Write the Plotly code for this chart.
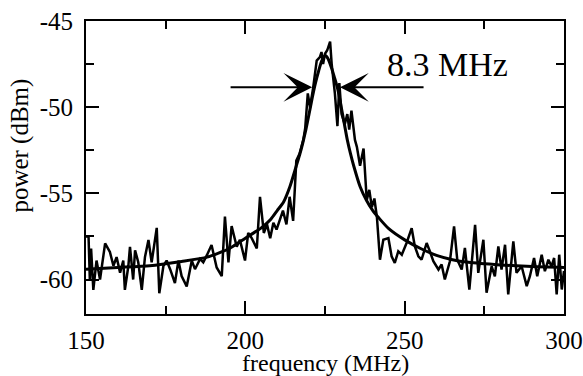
import plotly.graph_objects as go

# measured spectrum (frequency in MHz, power in dBm)
freq = [150.0, 150.8, 151.2, 151.6, 152.3, 153.3, 154.4, 156.0, 157.5, 158.6, 159.6, 160.7,
        161.7, 162.2, 163.3, 163.8, 164.8, 165.4, 166.4, 167.5, 168.5, 169.6, 170.6, 172.2,
        173.0, 174.3, 175.3, 176.4, 177.9, 179.0, 180.0, 181.6, 183.2, 184.2, 185.8, 186.8,
        187.9, 189.4, 191.0, 192.6, 193.6, 194.7, 195.7, 197.3, 198.3, 199.9, 200.9, 202.0,
        203.6, 204.6, 205.8, 206.8, 207.8, 208.8, 209.8, 210.8, 211.8, 212.9, 213.9, 215.0,
        216.0, 217.0, 218.2, 218.8, 219.6, 220.3, 221.3, 222.4, 223.4, 223.9, 224.4, 225.0,
        225.7, 226.6, 227.1, 228.1, 228.9, 229.5, 230.2, 231.2, 232.0, 232.6, 233.3, 234.4,
        235.0, 236.0, 237.1, 238.1, 238.9, 239.7, 240.5, 241.3, 242.25, 243.3, 244.9, 245.9,
        246.9, 248.0, 249.1, 250.6, 252.2, 253.2, 254.3, 255.3, 256.9, 257.9, 259.0, 260.6,
        261.6, 262.6, 264.2, 265.5, 266.5, 267.9, 268.9, 270.3, 272.1, 273.1, 274.7, 275.7,
        277.3, 278.3, 279.4, 280.4, 281.5, 282.5, 284.1, 285.1, 286.7, 288.3, 289.3, 290.6,
        291.6, 293.0, 294.0, 295.1, 296.1, 296.9, 297.7, 298.5, 299.3, 300.0]
power = [-57.5, -57.5, -60.0, -58.2, -60.6, -58.9, -60.0, -57.9, -58.4, -59.2, -58.7, -59.6,
         -58.9, -60.6, -59.2, -58.1, -60.0, -58.3, -59.0, -60.6, -58.7, -57.7, -59.0, -57.0,
         -60.8, -59.2, -58.9, -59.4, -60.2, -58.9, -59.8, -60.4, -58.9, -59.4, -58.8, -59.0,
         -58.6, -58.0, -59.3, -59.8, -56.35, -59.0, -56.9, -58.1, -57.7, -58.9, -57.3, -57.6,
         -58.2, -55.2, -57.3, -56.8, -57.6, -56.7, -57.1, -56.5, -56.0, -56.8, -55.2, -56.6,
         -53.1, -52.7, -51.9, -51.2, -49.2, -50.0, -48.85, -47.3, -47.1, -46.8, -47.5, -46.9,
         -46.7, -46.2, -47.5, -49.2, -51.1, -48.6, -50.4, -51.0, -50.4, -51.3, -50.2, -51.9,
         -52.3, -53.4, -52.4, -55.4, -54.8, -55.8, -55.3, -56.4, -58.85, -57.69, -57.6, -58.65,
         -59.04, -58.36, -58.56, -57.88, -57.02, -58.08, -58.65, -58.85, -57.88, -58.36, -58.94, -59.42,
         -59.13, -60.0, -58.94, -56.92, -58.85, -59.42, -58.17, -60.58, -56.83, -59.61, -57.69, -60.77,
         -59.23, -59.81, -58.08, -59.42, -57.98, -60.86, -57.79, -59.61, -59.23, -60.38, -59.81, -58.75,
         -59.81, -58.56, -59.52, -58.85, -59.23, -58.75, -60.86, -58.56, -60.58, -59.5]

# fitted curve
fit_freq = [150, 160, 170, 180, 188, 195, 200, 205, 208, 210, 212, 214, 216, 217, 218, 219,
            220, 221, 222, 223, 224, 225.1, 226, 227, 228, 229, 230, 231, 232, 233, 234, 236,
            238, 240, 242, 245, 250, 255, 260, 265, 270, 280, 290, 300]
fit_power = [-59.4, -59.3, -59.2, -58.95, -58.7, -58.2, -57.6, -57.0, -56.5, -56.0, -55.5, -54.6,
             -53.4, -52.8, -52.1, -51.3, -50.4, -49.45, -48.6, -47.9, -47.3, -47.0, -47.2, -47.7,
             -48.3, -48.95, -49.9, -50.9, -51.9, -52.7, -53.4, -54.6, -55.4, -56.0, -56.45, -57.05,
             -57.7, -58.2, -58.6, -58.85, -59.0, -59.15, -59.25, -59.3]

# FWHM marker
fwhm_left, fwhm_right, fwhm_level = 221.0, 229.7, -48.85
arrow_tail_left, arrow_tail_right = 194.9, 256.4
fwhm_label = "8.3 MHz"

x_ticks = [150, 200, 250, 300]
x_ticktext = ["150", "200", "250", "300"]
y_ticks = [-60, -55, -50, -45]
y_ticktext = ["-60", "-55", "-50", "-45"]

FONT = "Liberation Serif, Times New Roman, serif"

fig = go.Figure()
fig.add_trace(go.Scatter(x=freq, y=power, mode="lines",
                         line=dict(color="black", width=2.5), showlegend=False))
fig.add_trace(go.Scatter(x=fit_freq, y=fit_power, mode="lines",
                         line=dict(color="black", width=3, shape="spline", smoothing=0.6),
                         showlegend=False))

for tip, tail in [(fwhm_left, arrow_tail_left), (fwhm_right, arrow_tail_right)]:
    fig.add_annotation(x=tip, y=fwhm_level, ax=tail, ay=fwhm_level, xref="x", yref="y",
                       axref="x", ayref="y", text="", showarrow=True, arrowhead=3,
                       arrowsize=2.4, arrowwidth=2, arrowcolor="black", standoff=0)

fig.add_annotation(x=263.5, y=-47.5, xref="x", yref="y", text=fwhm_label, showarrow=False,
                   font=dict(family=FONT, size=34, color="black"),
                   xanchor="center", yanchor="middle")

# axis titles
fig.add_annotation(x=0.5, y=-0.168, xref="paper", yref="paper", text="frequency (MHz)",
                   showarrow=False, font=dict(family=FONT, size=24, color="black"),
                   xanchor="center", yanchor="middle")
fig.add_annotation(x=-0.14, y=0.575, xref="paper", yref="paper", text="power (dBm)",
                   showarrow=False, textangle=-90, font=dict(family=FONT, size=25, color="black"),
                   xanchor="center", yanchor="middle")

axis_common = dict(showline=True, linewidth=2, linecolor="black", mirror="allticks",
                   ticks="inside", ticklen=13, tickwidth=2, tickcolor="black",
                   showgrid=False, zeroline=False, automargin=False,
                   tickfont=dict(family=FONT, size=25, color="black"))

fig.update_xaxes(range=[150, 300], tickvals=x_ticks, ticktext=x_ticktext,
                 minor=dict(ticks="inside", ticklen=8, tickwidth=2, tickcolor="black",
                            tick0=150, dtick=25, showgrid=False),
                 ticklabelstandoff=3, **axis_common)
fig.update_yaxes(range=[-62, -45], tickvals=y_ticks, ticktext=y_ticktext,
                 minor=dict(ticks="inside", ticklen=8, tickwidth=2, tickcolor="black",
                            tick0=-45, dtick=2.5, showgrid=False),
                 ticklabelstandoff=6, **axis_common)

fig.update_layout(width=583, height=376, margin=dict(l=86, r=19, t=21, b=62),
                  plot_bgcolor="white", paper_bgcolor="white")

fig.write_html("out.html", config={"displayModeBar": False},
               post_script="document.body.style.margin='0';")
